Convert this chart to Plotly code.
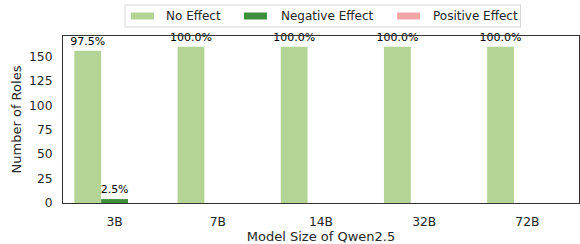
import plotly.graph_objects as go

categories = ["3B", "7B", "14B", "32B", "72B"]
no_effect = [156, 160, 160, 160, 160]
negative_effect = [4, 0, 0, 0, 0]
positive_effect = [0, 0, 0, 0, 0]
series_names = ["No Effect", "Negative Effect", "Positive Effect"]
colors = ["#b3d495", "#3c8f3c", "#f2a6a6"]
y_ticks = [0, 25, 50, 75, 100, 125, 150]

series = [no_effect, negative_effect, positive_effect]
totals = [sum(v) for v in zip(*series)]

W, H = 580, 244
ML, MR, MT, MB = 63, 1, 36, 41
PW, PH = W - ML - MR, H - MT - MB


def px_x(x):
    return (x - ML) / PW


def px_y(y):
    return (H - MB - y) / PH


fig = go.Figure()
for name, vals, col in zip(series_names, series, colors):
    texts = [f"{v / t * 100:.1f}%" if v > 0 else "" for v, t in zip(vals, totals)]
    fig.add_trace(go.Bar(
        x=categories, y=vals, name=name, marker=dict(color=col, line=dict(width=0)),
        text=texts, textposition="outside", cliponaxis=False, constraintext="none",
        textfont=dict(size=11, color="black", family="DejaVu Sans"),
        showlegend=False,
    ))

# manual legend (matplotlib style, wide swatches)
shapes = [dict(type="rect", xref="paper", yref="paper",
               x0=px_x(125), x1=px_x(520.5), y0=px_y(27), y1=px_y(5),
               line=dict(color="#d6d6d6", width=1), fillcolor="white", layer="above")]
annotations = []
sw_x = [131, 244, 397]
tx_x = [164, 278.7, 430.7]
for name, col, sx, tx in zip(series_names, colors, sw_x, tx_x):
    shapes.append(dict(type="rect", xref="paper", yref="paper",
                       x0=px_x(sx), x1=px_x(sx + 23), y0=px_y(19.5), y1=px_y(12.5),
                       line=dict(width=0), fillcolor=col, layer="above"))
    annotations.append(dict(xref="paper", yref="paper", x=px_x(tx), y=px_y(16),
                            xanchor="left", yanchor="middle", showarrow=False,
                            text=name, font=dict(size=12, color="#262626")))

fig.update_layout(
    width=W, height=H,
    margin=dict(l=ML, r=MR, t=MT, b=MB, autoexpand=False),
    barmode="group", bargap=0.22, bargroupgap=0,
    plot_bgcolor="white", paper_bgcolor="white",
    font=dict(family="DejaVu Sans", size=12, color="#262626"),
    showlegend=False, shapes=shapes, annotations=annotations,
)
fig.update_xaxes(
    title=dict(text="Model Size of Qwen2.5", standoff=1, font=dict(size=13)),
    range=[-0.5, 4.5], showline=True, linecolor="#333333", linewidth=1, mirror=True,
    ticks="outside", ticklen=7, tickcolor="rgba(0,0,0,0)", tickfont=dict(size=12.3),
    showgrid=False, automargin=False,
)
fig.update_yaxes(
    title=dict(text="Number of Roles", standoff=4, font=dict(size=13)),
    range=[0, 171], tickvals=y_ticks, showline=True, linecolor="#333333", linewidth=1,
    mirror=True, ticks="outside", ticklen=7, tickcolor="rgba(0,0,0,0)",
    tickfont=dict(size=12.3), showgrid=False, zeroline=False, automargin=False,
)

fig.write_html("out.html", config={"displayModeBar": False},
               post_script="document.body.style.margin='0';")
